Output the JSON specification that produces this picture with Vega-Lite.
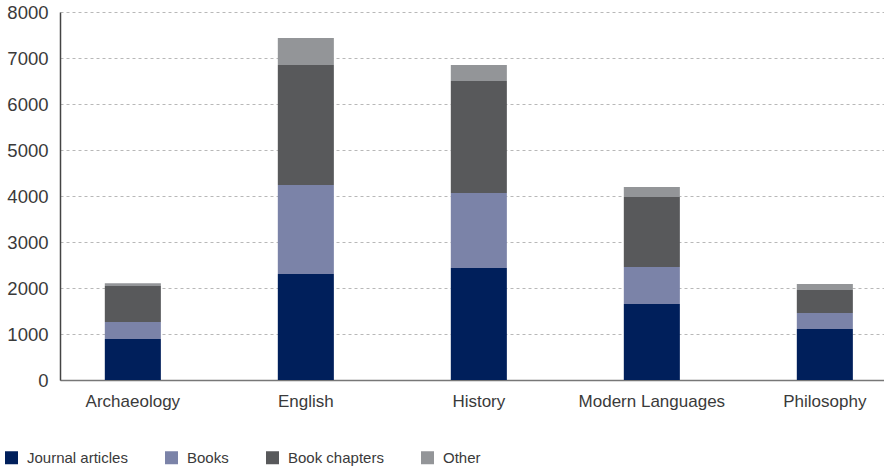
{
  "$schema": "https://vega.github.io/schema/vega-lite/v6.json",
  "width": 824,
  "height": 368,
  "autosize": "none",
  "padding": {"left": 60, "top": 12, "right": 0, "bottom": 92},
  "background": "white",
  "data": {
    "values": [
      {"subject": "Archaeology", "type": "Journal articles", "ord": 1, "value": 890},
      {"subject": "Archaeology", "type": "Books", "ord": 2, "value": 370},
      {"subject": "Archaeology", "type": "Book chapters", "ord": 3, "value": 783},
      {"subject": "Archaeology", "type": "Other", "ord": 4, "value": 58},
      {"subject": "English", "type": "Journal articles", "ord": 1, "value": 2304},
      {"subject": "English", "type": "Books", "ord": 2, "value": 1935},
      {"subject": "English", "type": "Book chapters", "ord": 3, "value": 2609},
      {"subject": "English", "type": "Other", "ord": 4, "value": 587},
      {"subject": "History", "type": "Journal articles", "ord": 1, "value": 2435},
      {"subject": "History", "type": "Books", "ord": 2, "value": 1630},
      {"subject": "History", "type": "Book chapters", "ord": 3, "value": 2435},
      {"subject": "History", "type": "Other", "ord": 4, "value": 348},
      {"subject": "Modern Languages", "type": "Journal articles", "ord": 1, "value": 1652},
      {"subject": "Modern Languages", "type": "Books", "ord": 2, "value": 805},
      {"subject": "Modern Languages", "type": "Book chapters", "ord": 3, "value": 1521},
      {"subject": "Modern Languages", "type": "Other", "ord": 4, "value": 218},
      {"subject": "Philosophy", "type": "Journal articles", "ord": 1, "value": 1109},
      {"subject": "Philosophy", "type": "Books", "ord": 2, "value": 348},
      {"subject": "Philosophy", "type": "Book chapters", "ord": 3, "value": 500},
      {"subject": "Philosophy", "type": "Other", "ord": 4, "value": 130}
    ]
  },
  "mark": {"type": "bar"},
  "encoding": {
    "x": {
      "field": "subject",
      "type": "nominal",
      "sort": null,
      "scale": {"paddingInner": 0.676, "paddingOuter": 0.2195, "align": 0.59},
      "axis": {
        "title": null,
        "labelAngle": 0,
        "labelFont": "Liberation Sans",
        "labelFontSize": 17,
        "labelColor": "#3a3a3a",
        "labelPadding": 13,
        "ticks": false,
        "domainColor": "#777777",
        "domainWidth": 1.5,
        "grid": false
      }
    },
    "y": {
      "field": "value",
      "type": "quantitative",
      "stack": "zero",
      "scale": {"domain": [0, 8000], "nice": false},
      "axis": {
        "title": null,
        "values": [0, 1000, 2000, 3000, 4000, 5000, 6000, 7000, 8000],
        "format": "d",
        "labelFont": "Liberation Sans",
        "labelFontSize": 18.5,
        "labelColor": "#3a3a3a",
        "labelPadding": 12,
        "ticks": false,
        "domainColor": "#444444",
        "domainWidth": 1.5,
        "grid": true,
        "gridColor": "#b8b8b8",
        "gridDash": [3, 3],
        "gridWidth": 1
      }
    },
    "color": {
      "field": "type",
      "type": "nominal",
      "sort": ["Journal articles", "Books", "Book chapters", "Other"],
      "scale": {
        "domain": ["Journal articles", "Books", "Book chapters", "Other"],
        "range": ["#001f5b", "#7b83a8", "#58595b", "#939598"]
      },
      "legend": {
        "title": null,
        "orient": "none",
        "direction": "horizontal",
        "legendX": -56,
        "legendY": 438,
        "symbolType": "square",
        "symbolSize": 169,
        "symbolStrokeWidth": 0,
        "labelFont": "Liberation Sans",
        "labelFontSize": 15,
        "labelColor": "#3a3a3a",
        "labelOffset": 8,
        "columnPadding": 36,
        "padding": 0
      }
    },
    "order": {"field": "ord", "type": "quantitative", "sort": "ascending"}
  },
  "config": {
    "view": {"stroke": null},
    "axis": {"labelFont": "Liberation Sans"}
  }
}
